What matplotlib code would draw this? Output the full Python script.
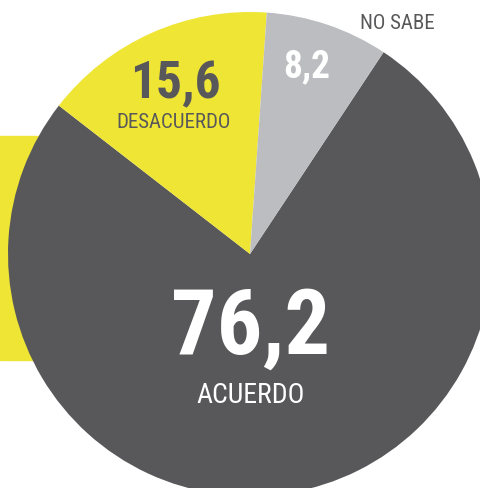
import matplotlib
matplotlib.use('Agg')
import matplotlib.pyplot as plt
from matplotlib.patches import Rectangle

# datos de la encuesta (%)
labels = ['ACUERDO', 'DESACUERDO', 'NO SABE']
values = [76.2, 15.6, 8.2]
value_text = ['76,2', '15,6', '8,2']
colors = ['#58585a', '#efe535', '#bcbdc0']

W, H = 481, 489
fig = plt.figure(figsize=(W / 100, H / 100), dpi=100)
ax = fig.add_axes([0, 0, 1, 1])

fam = ['Roboto Condensed', 'DejaVu Sans']

# franja amarilla detras del circulo
ax.add_patch(Rectangle((0, H - 361), 60, 224, color='#efe535', zorder=0))

ax.pie(values, colors=colors, startangle=56.5, counterclock=False,
       center=(250, H - 255), radius=242,
       wedgeprops=dict(linewidth=0), frame=True)

ax.set_xlim(0, W)
ax.set_ylim(0, H)
ax.set_aspect('equal')
ax.axis('off')

# ACUERDO
ax.text(251, H - 329, value_text[0], ha='center', va='center', fontsize=65,
        fontweight='bold', color='white', family=fam)
ax.text(251, H - 396, labels[0], ha='center', va='center', fontsize=20,
        color='white', family=fam)
# DESACUERDO
ax.text(175, H - 84, value_text[1], ha='center', va='center', fontsize=37,
        fontweight='bold', color='#58585a', family=fam)
ax.text(174, H - 123, labels[1], ha='center', va='center', fontsize=15,
        color='#58585a', family=fam)
# NO SABE
ax.text(307, H - 67, value_text[2], ha='center', va='center', fontsize=27,
        fontweight='bold', color='white', family=fam)
ax.text(397, H - 24, labels[2], ha='center', va='center', fontsize=15,
        color='#58585a', family=fam)

fig.savefig('out.png', dpi=100)
